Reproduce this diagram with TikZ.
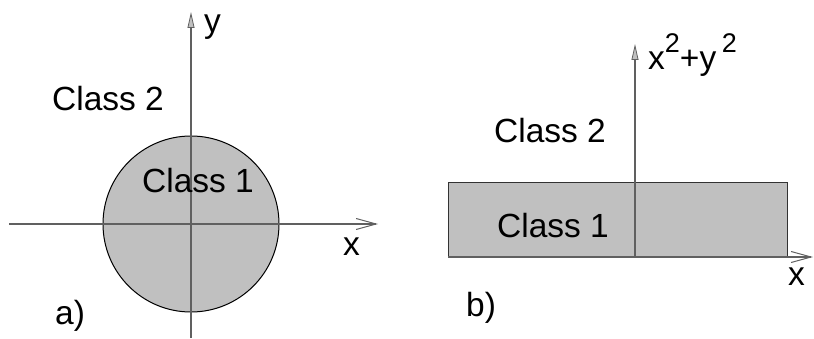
\documentclass[tikz,border=0pt]{standalone}
\usepackage{fontspec}
\setmainfont{Liberation Sans}
\usetikzlibrary{arrows.meta}
\definecolor{fillgray}{HTML}{C0C0C0}
\definecolor{axisgray}{HTML}{606060}
\tikzset{
  axisline/.style={draw=axisgray, line width=1.2pt},
  xaxis/.style={axisline, -{Straight Barb[length=20pt,width=11pt,line width=1pt]}},
  yaxis/.style={axisline, -{Triangle[length=16pt,width=7pt,fill=fillgray,line width=0.8pt]}},
  lbl/.style={inner sep=0pt, anchor=base west, font=\fontsize{33.5}{40}\selectfont},
  region/.style={fill=fillgray, draw=black, line width=1pt},
}
\begin{document}
\begin{tikzpicture}[x=1pt,y=-1pt]
\useasboundingbox (0,0) rectangle (814,339);
% panel a
\node[region, circle, minimum size=176pt, inner sep=0pt] (circ) at (191,224) {};
\coordinate (axl) at (9,224);
\coordinate (axr) at (378,224);
\coordinate (ayb) at (191,338);
\coordinate (ayt) at (191,12);
\draw[xaxis] (axl) -- (axr);
\draw[yaxis] (ayb) -- (ayt);
\node[lbl] (ylab) at (204,33) {y};
\node[lbl] (xlab) at (343,255) {x};
\node[lbl] (c2a) at (52,111) {Class 2};
\node[lbl] (c1a) at (142,193) {Class 1};
\node[lbl] (la) at (55,324) {a)};
% panel b
\node[region, draw=black!80, line width=1pt, minimum width=339pt, minimum height=75pt, inner sep=0pt, anchor=north west] (rect) at (448,182) {};
\coordinate (bxl) at (448,257);
\coordinate (bxr) at (813,257);
\coordinate (byb) at (635,258);
\coordinate (byt) at (635,44);
\draw[xaxis] (bxl) -- (bxr);
\draw[yaxis] (byb) -- (byt);
\node[lbl] (ylabb) at (648,70) {x\raisebox{17pt}{\fontsize{27}{32}\selectfont 2}+y\,\raisebox{17pt}{\fontsize{27}{32}\selectfont 2}};
\node[lbl] (xlabb) at (788,285) {x};
\node[lbl] (c2b) at (494,143) {Class 2};
\node[lbl] (c1b) at (497,237) {Class 1};
\node[lbl] (lb) at (466,316) {b)};
\end{tikzpicture}
\end{document}
